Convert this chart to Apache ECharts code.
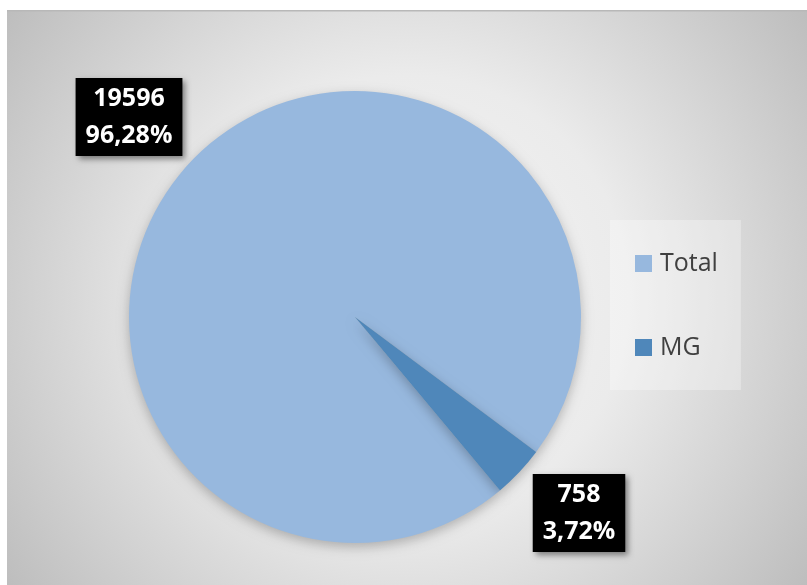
<!DOCTYPE html>
<html>
<head>
<meta charset="utf-8">
<script src="https://cdn.jsdelivr.net/npm/echarts@6/dist/echarts.min.js"></script>
<style>
html,body{margin:0;padding:0;background:#fff;}
#c{width:807px;height:585px;}
</style>
</head>
<body>
<div id="c"></div>
<script>
var categories = ['Total', 'MG'];
var values = [19596, 758];
var percentLabels = ['96,28%', '3,72%'];
var colors = ['#97B8DE', '#4F87BA'];

var chart = echarts.init(document.getElementById('c'), null, {renderer: 'canvas'});

var data = categories.map(function (name, i) {
  return { name: name, value: values[i], itemStyle: { color: colors[i] } };
});

var labelSpots = [
  { x: 129, y: 117 },
  { x: 579, y: 513 }
];

chart.setOption({
  backgroundColor: '#ffffff',
  animation: false,
  graphic: [
    {
      type: 'rect',
      z: -10,
      silent: true,
      shape: { x: 7, y: 10, width: 800, height: 575 },
      style: {
        fill: new echarts.graphic.RadialGradient(0.5, 0.5, 0.86, [
          { offset: 0, color: '#f5f5f5' },
          { offset: 0.45, color: '#ebebeb' },
          { offset: 1, color: '#bdbdbd' }
        ]),
        stroke: null
      }
    },
    {
      type: 'rect',
      z: -9,
      silent: true,
      shape: { x: 7, y: 10, width: 800, height: 1.5 },
      style: { fill: '#b8b8b8' }
    }
  ],
  legend: {
    orient: 'vertical',
    left: 610,
    top: 220,
    padding: [31, 23, 30, 25],
    backgroundColor: 'rgba(255,255,255,0.3)',
    itemWidth: 17,
    itemHeight: 17,
    itemGap: 59,
    icon: 'rect',
    data: categories,
    textStyle: {
      fontFamily: 'Open Sans',
      fontSize: 25,
      lineHeight: 25,
      color: '#404040',
      padding: [0, 0, 0, 3]
    }
  },
  series: [{
    type: 'pie',
    center: [355, 317],
    radius: 226,
    startAngle: 309.9,
    clockwise: true,
    data: data,
    itemStyle: {
      shadowBlur: 12,
      shadowOffsetY: 4,
      shadowColor: 'rgba(0,0,0,0.25)'
    },
    emphasis: { disabled: true },
    labelLine: { show: false },
    label: {
      show: true,
      position: 'outside',
      formatter: function (p) {
        return p.value + '\n' + percentLabels[p.dataIndex];
      },
      fontFamily: 'Open Sans',
      fontWeight: 'bold',
      fontSize: 25,
      lineHeight: 37,
      color: '#ffffff',
      backgroundColor: '#000000',
      padding: [2, 10],
      align: 'center',
      shadowBlur: 6,
      shadowOffsetX: 3,
      shadowOffsetY: 3,
      shadowColor: 'rgba(0,0,0,0.45)'
    },
    labelLayout: function (params) {
      var s = labelSpots[params.dataIndex];
      return { x: s.x, y: s.y, align: 'center', verticalAlign: 'middle' };
    }
  }]
});
</script>
</body>
</html>
